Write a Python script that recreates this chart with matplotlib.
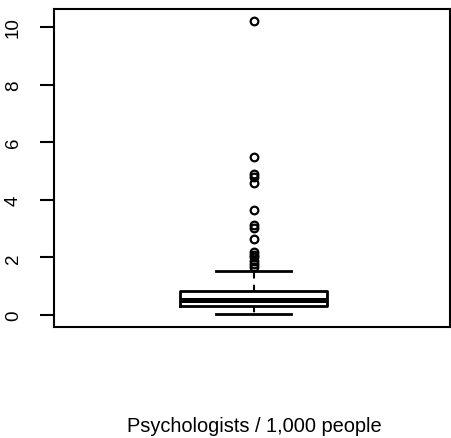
import matplotlib
matplotlib.use('Agg')
import matplotlib.pyplot as plt

# Box summary
q1 = 0.32
median = 0.52
q3 = 0.84
whisker_low = 0.03
whisker_high = 1.54
outliers = [10.2, 5.5, 4.9, 4.8, 4.6, 3.66, 3.13, 3.03, 2.65,
            2.2, 2.1, 2.0, 1.88, 1.78, 1.68]
y_ticks = [0, 2, 4, 6, 8, 10]
label = 'Psychologists / 1,000 people'

plt.rcParams['font.family'] = ['Liberation Sans', 'DejaVu Sans']

fig = plt.figure(figsize=(4.51, 4.39), dpi=100)
ax = fig.add_axes([54 / 451, 1 - 328 / 439, 396 / 451, 318 / 439])

stats = [{'q1': q1, 'med': median, 'q3': q3,
          'whislo': whisker_low, 'whishi': whisker_high,
          'fliers': outliers}]
ax.bxp(stats, positions=[1], widths=0.371, capwidths=0.19,
       boxprops=dict(color='black', linewidth=2.0),
       medianprops=dict(color='black', linewidth=3.6),
       whiskerprops=dict(color='black', linewidth=1.5, linestyle=(0, (3, 3))),
       capprops=dict(color='black', linewidth=2.0),
       flierprops=dict(marker='o', markersize=5.5, markerfacecolor='none',
                       markeredgecolor='black', markeredgewidth=1.6))

ax.set_xlim(0.496, 1.496)
ax.set_ylim(-0.417, 10.625)
ax.set_yticks(y_ticks)
ax.set_yticklabels([str(t) for t in y_ticks], rotation=90, va='center')
ax.tick_params(axis='y', length=10, width=1.5, pad=13, labelsize=13.5)
ax.set_xticks([])
for s in ax.spines.values():
    s.set_linewidth(1.5)

fig.text(254 / 451, 1 - 427 / 439, label, ha='center', va='center', fontsize=14.4)

fig.savefig('out.png', dpi=100)
